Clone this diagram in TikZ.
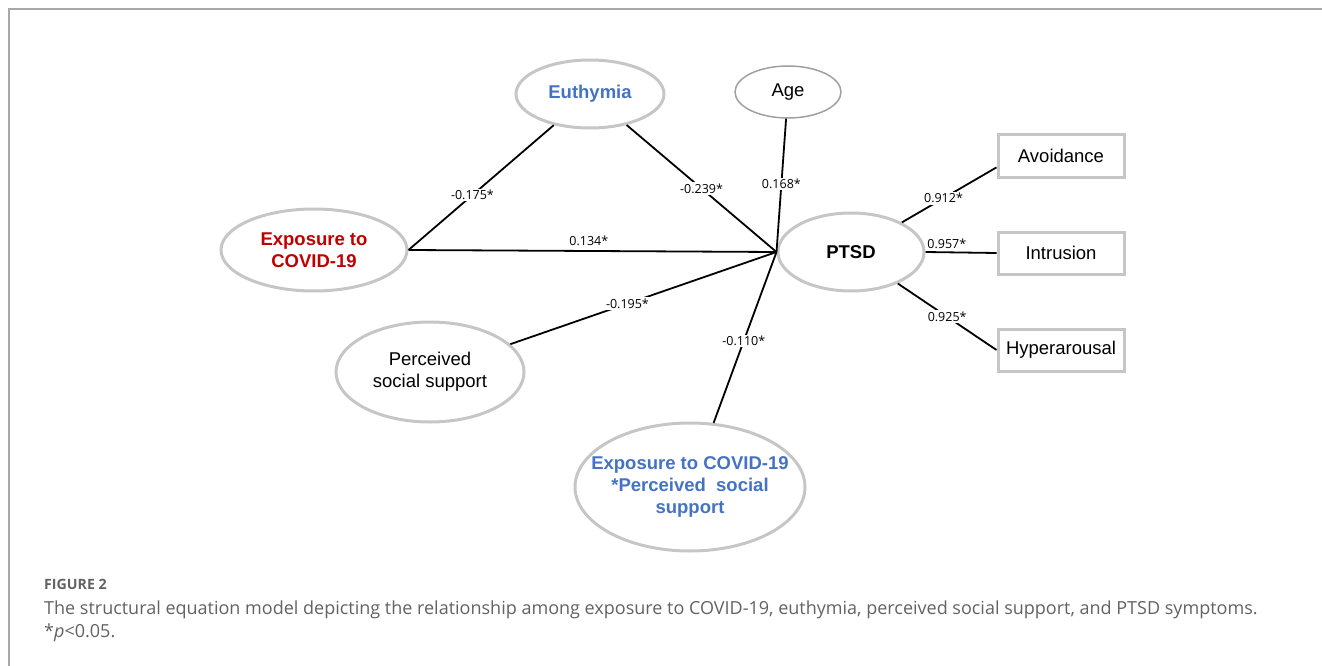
\documentclass[tikz,border=0pt]{standalone}
\usepackage{fontspec}
\setmainfont{Liberation Sans}
\newfontfamily\lblfont{Open Sans}
\newfontfamily\capfont{Open Sans}
\usetikzlibrary{shapes.geometric}
\definecolor{eblue}{HTML}{4472C4}
\definecolor{ered}{HTML}{C00000}
\definecolor{bord}{HTML}{C6C6C6}
\definecolor{ageb}{HTML}{A0A0A0}
\definecolor{capgray}{HTML}{626262}
\definecolor{framegray}{HTML}{A8A8A8}
\tikzset{
  ell/.style={ellipse, draw=bord, line width=3pt, inner sep=0pt, align=center,
    font=\fontsize{18.5}{22}\selectfont},
  box/.style={rectangle, draw=bord, line width=3pt, inner sep=0pt,
    minimum width=126pt, minimum height=42pt, font=\fontsize{18.5}{22}\selectfont},
  sempath/.style={draw=black, line width=1.8pt},
  coef/.style={font=\lblfont\fontsize{12.5}{14}\selectfont, fill=white, inner sep=1.5pt},
  coefabove/.style={font=\lblfont\fontsize{12.5}{14}\selectfont, inner sep=1pt, above},
  captext/.style={anchor=base west, inner sep=0pt, text=capgray}
}
\begin{document}
\begin{tikzpicture}[x=1pt,y=-1pt]
\useasboundingbox (0,0) rectangle (1322,666);
% frame
\coordinate (ftr) at (1322,9);
\coordinate (ftl) at (9,9);
\coordinate (fbl) at (9,666);
\draw[framegray, line width=1.8pt] (ftr) -- (ftl) -- (fbl);

% nodes
\node[ell, minimum width=148pt, minimum height=68pt] (eu) at (590,94) {\textcolor{eblue}{\bfseries Euthymia}};
\node[ell, minimum width=186pt, minimum height=82pt] (ex) at (314,250) {\textcolor{ered}{\bfseries Exposure to}\\\textcolor{ered}{\bfseries COVID-19}};
\node[ell, draw=ageb, line width=1.5pt, minimum width=106pt, minimum height=52pt] (age) at (788,92) {Age};
\node[ell, minimum width=146pt, minimum height=78pt] (ptsd) at (851,252) {\bfseries PTSD};
\node[ell, minimum width=188pt, minimum height=100pt] (pss) at (430,372) {Perceived\\social support};
\node[ell, inner sep=-22pt, minimum width=230pt, minimum height=128pt] (int) at (690,487) {\textcolor{eblue}{\bfseries Exposure to COVID-19}\\\textcolor{eblue}{\bfseries *Perceived\ \ social}\\\textcolor{eblue}{\bfseries support}};
\node[box] (av) at (1061,156) {Avoidance};
\node[box] (in) at (1061,253) {Intrusion};
\node[box] (hy) at (1061,350) {Hyperarousal};

% paths
\draw[sempath] (ex.east) -- (eu) node[coef, pos=0.44] {-0.175*};
\draw[sempath] (eu) -- (ptsd.west) node[coef, pos=0.5] {-0.239*};
\draw[sempath] (age) -- (ptsd.west) node[coef, pos=0.49] {0.168*};
\draw[sempath] (ex.east) -- (ptsd.west) node[coefabove, pos=0.49, yshift=3pt] {0.134*};
\draw[sempath] (pss) -- (ptsd.west) node[coef, pos=0.44] {-0.195*};
\draw[sempath] (int) -- (ptsd.west) node[coef, pos=0.48] {-0.110*};
\draw[sempath] (ptsd) -- (av.190) node[coef, pos=0.44] {0.912*};
\draw[sempath] (ptsd.east) -- (in.west) node[coefabove, pos=0.3, yshift=2pt] {0.957*};
\draw[sempath] (ptsd) -- (hy.west) node[coef, pos=0.5] {0.925*};

% caption
\node[captext, font=\capfont\bfseries\fontsize{14.2}{16}\selectfont] (fig) at (44,589) {FIGURE 2};
\node[captext, font=\capfont\fontsize{18}{22}\selectfont] (ctext) at (44,614) {The structural equation model depicting the relationship among exposure to COVID-19, euthymia, perceived social support, and PTSD symptoms.};
\node[captext, font=\capfont\fontsize{18}{22}\selectfont] (pnote) at (44,637) {*\textit{p}<0.05.};
\end{tikzpicture}
\end{document}
